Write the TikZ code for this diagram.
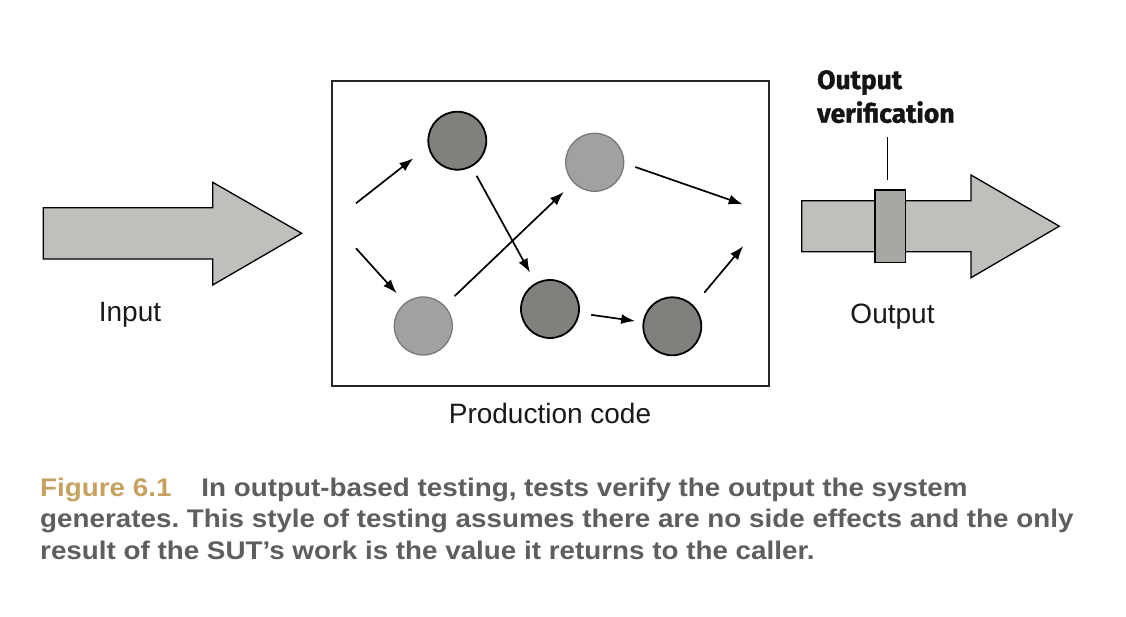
\documentclass[tikz,border=0pt]{standalone}
\usepackage{fontspec}
\setmainfont{Liberation Sans}
\newfontfamily\firafont[BoldFeatures={FakeBold=1.2}]{Fira Sans}
\newfontfamily\capfont[FakeStretch=1.09]{Liberation Sans}
\usetikzlibrary{arrows.meta}
\frenchspacing
\definecolor{arrowfill}{HTML}{BFC0BB}
\definecolor{darkcirc}{HTML}{7F817C}
\definecolor{lightcirc}{HTML}{A1A1A0}
\definecolor{lightedge}{HTML}{7A7A7A}
\definecolor{verfill}{HTML}{A6A8A3}
\definecolor{capgold}{HTML}{C6A260}
\definecolor{capgray}{HTML}{5E5E5E}
\tikzset{
  bigarrow/.style={draw=black, line width=1.3pt, fill=arrowfill, line join=miter},
  darknode/.style={circle, draw=black, line width=1.8pt, fill=darkcirc, minimum size=58pt, inner sep=0pt},
  lightnode/.style={circle, draw=lightedge, line width=1.3pt, fill=lightcirc, minimum size=58pt, inner sep=0pt},
  flow/.style={line width=1.7pt, -{Latex[length=14pt,width=10pt]}},
  lbl/.style={font=\fontsize{28}{34}\selectfont, text=black!90, inner sep=0pt},
  caption/.style={font=\capfont\bfseries\fontsize{25.5}{30}\selectfont, text=capgray, anchor=base west, inner sep=0pt},
  prodbox/.style={draw=black!85, line width=1.8pt, fill=white},
  verbox/.style={draw=black, line width=1.5pt, fill=verfill, minimum width=30.7pt, minimum height=72.3pt, inner sep=0pt}
}
\begin{document}
\begin{tikzpicture}[x=1pt,y=-1pt]
\useasboundingbox (0,0) rectangle (1126,616);
% input arrow
\draw[bigarrow] (43.3,207.7) -- (212.7,207.7) -- (212.7,182.3) -- (301.7,233.3) -- (212.7,285) -- (212.7,259) -- (43.3,259) -- cycle;
\node[lbl, anchor=base] (input) at (130,321.7) {Input};
% production box
\draw[prodbox] (332.3,80.7) rectangle (769,385.7);
\node[lbl, anchor=base] (prod) at (550,423.3) {Production code};
% circles
\node[darknode] (c1) at (457.3,140.7) {};
\node[lightnode] (c2) at (594.7,162.3) {};
\node[lightnode] (c3) at (423.3,326) {};
\node[darknode] (c4) at (550,309) {};
\node[darknode] (c5) at (672.3,326.3) {};
% free ends
\coordinate (s1) at (356,203.3);
\coordinate (e1) at (413.3,158.3);
\coordinate (s2) at (356,248.3);
\coordinate (e2) at (396.7,293.3);
\coordinate (s5) at (635.3,167);
\coordinate (e5) at (742.7,204.3);
\coordinate (s7) at (704.3,292.7);
\coordinate (e7) at (743.3,246);
\draw[flow] (s1) -- (e1);
\draw[flow] (s2) -- (e2);
\draw[flow, shorten <=40pt, shorten >=41.5pt] (c1.center) -- (c4.center);
\draw[flow, shorten <=43.2pt, shorten >=42.8pt] (c3.center) -- (c2.center);
\draw[flow] (s5) -- (e5);
\draw[flow, shorten <=41.6pt, shorten >=37.5pt] (c4.center) -- (c5.center);
\draw[flow] (s7) -- (e7);
% output arrow
\draw[bigarrow] (801.7,200.7) -- (971,200.7) -- (971,175) -- (1059.3,226.2) -- (971,277.7) -- (971,251.7) -- (801.7,251.7) -- cycle;
\node[verbox] (ver) at (890.3,226.2) {};
\node[lbl, anchor=base] (output) at (892.5,323.5) {Output};
\node[font=\firafont\bfseries\fontsize{26.5}{33.7}\selectfont, align=left, anchor=base west, inner sep=0pt, text=black!92] (verlbl) at (817,122.7) {Output\\verification};
\coordinate (vtop) at (887.7,137.3);
\coordinate (vbot) at (887.7,180);
\draw[line width=1.2pt] (vtop) -- (vbot);
% caption
\node[caption] (cap1) at (40,496) {\textcolor{capgold}{Figure 6.1}\hspace{30pt}In output-based testing, tests verify the output the system};
\node[caption] (cap2) at (40,527) {generates. This style of testing assumes there are no side effects and the only};
\node[caption] (cap3) at (40,559) {result of the SUT’s work is the value it returns to the caller.};
\end{tikzpicture}
\end{document}
